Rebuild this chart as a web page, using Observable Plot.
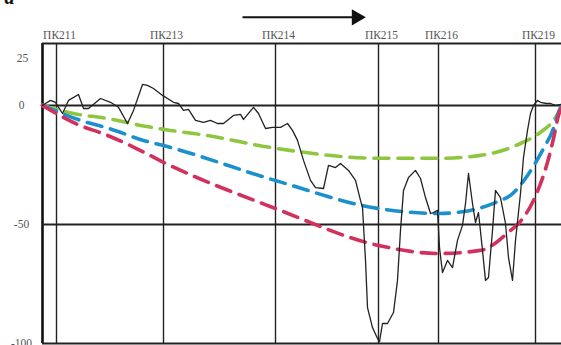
<!DOCTYPE html>
<html>
<head>
<meta charset="utf-8">
<script src="https://cdn.jsdelivr.net/npm/d3@7"></script>
<script src="https://cdn.jsdelivr.net/npm/@observablehq/plot@0.6"></script>
<style>
  body { margin: 0; background: white; }
  svg text { font-family: "Liberation Serif", "DejaVu Serif", serif; }
</style>
</head>
<body>
<div id="chart"></div>
<script>
// Picket (ПК) positions along the profile (distance units)
const pickets = ["ПК211", "ПК213", "ПК214", "ПК215", "ПК216", "ПК219"];
const picketX = [14, 121, 233, 336, 396, 493];

// Measured profile (black line)
const profileX = [0, 3, 8, 13, 20, 26, 36, 41, 46, 58, 68, 76, 85, 91, 100, 105, 111, 120, 131, 136, 141, 146, 153, 161, 168, 175, 181, 191, 198, 201, 211, 216, 223, 230, 238, 245, 250, 255, 261, 268, 273, 281, 286, 293, 298, 306, 313, 318, 320, 323, 325, 330, 335, 337, 340, 345, 351, 355, 358, 361, 366, 373, 378, 383, 388, 391, 395, 397, 400, 405, 410, 415, 420, 423, 426, 430, 433, 436, 440, 443, 446, 450, 453, 458, 463, 466, 470, 473, 478, 481, 485, 488, 491, 495, 498, 504, 508, 513, 519];
const profileY = [0, 0.8, 2.1, 1.3, -3.4, 2.1, 4.6, -1.3, -1.3, 2.9, 1.3, -0.8, -7.6, -2.1, 8.8, 8.4, 7.1, 4.2, 1.3, 0.8, -2.1, -1.7, -6.3, -7.1, -6.3, -7.6, -7.6, -4.2, -3.8, -5.9, -0.8, -3.4, -9.7, -9.2, -9.2, -7.6, -10.5, -14.7, -23.1, -31.5, -34.5, -34.9, -25.2, -26.1, -24.4, -27.3, -31.5, -39.9, -42.9, -65.1, -84.9, -93.3, -97.9, -99.2, -91.6, -91.6, -87, -73.5, -52.5, -35.7, -30.3, -27.3, -30.7, -38.7, -45.4, -45, -44.1, -59.7, -70.2, -65.1, -68.1, -56.7, -50.4, -41.2, -28.6, -41.2, -49.2, -45, -60.9, -73.5, -72.3, -52.5, -35.7, -38.7, -49.6, -63.9, -73.5, -56.7, -37, -21.8, -10.5, -3.4, 0, 2.1, 1.3, 0.8, 0.8, 0, 0.4];

// Model curves (dashed)
const greenX = [0, 31, 65, 98, 128, 158, 233, 336, 396, 438, 478, 498, 511, 519];
const greenY = [0, -3.4, -5.5, -8.4, -10.5, -12.2, -18, -22.2, -22.2, -21, -16, -11.3, -6.3, -0.8];
const blueX = [0, 38, 68, 101, 124, 235, 336, 396, 428, 458, 468, 485, 501, 511, 516, 519];
const blueY = [0, -6.3, -9.9, -14.7, -17.2, -31.8, -43.3, -45.4, -44.1, -39.9, -37.8, -29.4, -18.1, -9.7, -2.9, 0];
const redX = [0, 34, 65, 93, 121, 233, 336, 396, 438, 468, 478, 495, 505, 511, 516, 519];
const redY = [0, -7.8, -12.6, -17.9, -23.9, -43.3, -58.8, -62.2, -60.9, -52.5, -48.7, -36.1, -23.9, -13.9, -4.2, -0.8];

const yTicks = [0, -50, -100];
const yTopTick = [25];

// Direction arrow (annotation)
const arrowX = [200, 314];
const arrowY = 37;

const toRows = (xs, ys) => xs.map((x, i) => ({x, y: ys[i]}));
const profile = toRows(profileX, profileY);
const green = toRows(greenX, greenY);
const blue = toRows(blueX, blueY);
const red = toRows(redX, redY);

const serif = "'Liberation Serif', 'DejaVu Serif', serif";
const dash = {strokeWidth: 3.6, strokeDasharray: "15,9", curve: "monotone-x"};
const axisText = {tickSize: 0, fill: "#555", fontSize: 11.5, fontFamily: serif, label: null};

const chart = Plot.plot({
  width: 561,
  height: 345,
  marginLeft: 42,
  marginRight: 0,
  marginTop: 43,
  marginBottom: 2,
  x: {domain: [0, 519], axis: null, label: null},
  y: {domain: [-100, 26], axis: null, label: null},
  style: {fontFamily: serif, fontSize: "11px", color: "#555", background: "white", overflow: "visible"},
  marks: [
    Plot.ruleX(picketX, {stroke: "#222", strokeWidth: 1.4}),
    Plot.ruleX([0], {stroke: "#111", strokeWidth: 2.6}),
    Plot.ruleY([0, -50], {stroke: "#222", strokeWidth: 2}),
    Plot.ruleY([26, -100], {stroke: "#222", strokeWidth: 2}),
    Plot.line(green, {x: "x", y: "y", stroke: "#8fc640", ...dash}),
    Plot.line(blue, {x: "x", y: "y", stroke: "#1c90cc", ...dash}),
    Plot.line(red, {x: "x", y: "y", stroke: "#d3315d", ...dash}),
    Plot.line(profile, {x: "x", y: "y", stroke: "#222", strokeWidth: 1.3}),
    Plot.axisX({anchor: "top", ticks: picketX, tickFormat: d => pickets[picketX.indexOf(d)], tickPadding: 5, dx: 3, ...axisText}),
    Plot.axisY({ticks: yTicks, tickFormat: d => String(d), tickPadding: 21, textAnchor: "middle", ...axisText}),
    Plot.axisY({ticks: yTopTick, tickFormat: d => String(d), tickPadding: 20, textAnchor: "middle", dy: 12, ...axisText}),
    Plot.link([{x1: arrowX[0], x2: arrowX[1]}], {x1: "x1", x2: "x2", y1: arrowY, y2: arrowY, stroke: "#111", strokeWidth: 2, clip: false}),
    Plot.dot([{x: arrowX[1]}], {x: "x", y: arrowY, symbol: "triangle", rotate: 90, r: 6, fill: "#111", stroke: "none", clip: false}),
    Plot.text(["а"], {frameAnchor: "top-left", dx: -38, dy: -40, lineAnchor: "bottom", textAnchor: "start", fontStyle: "italic", fontWeight: "bold", fontSize: 20, fontFamily: serif, fill: "#111"})
  ]
});
document.getElementById("chart").appendChild(chart);
</script>
</body>
</html>
